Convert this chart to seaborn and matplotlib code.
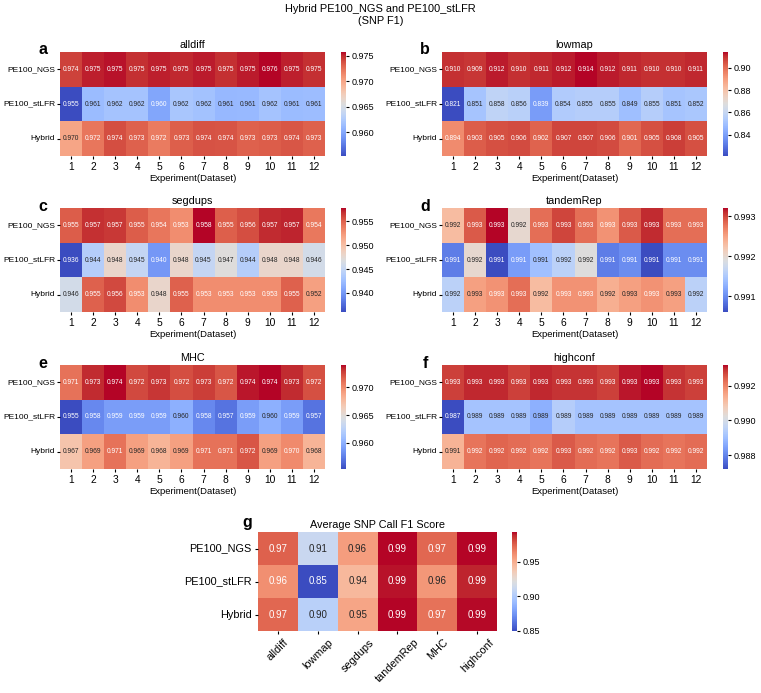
import matplotlib.pyplot as plt
import seaborn as sns
import numpy as np
import pandas as pd

plt.rcParams['font.family'] = ['Liberation Sans', 'DejaVu Sans']

samples = ['PE100_NGS', 'PE100_stLFR', 'Hybrid']
experiments = list(range(1, 13))
regions = ['alldiff', 'lowmap', 'segdups', 'tandemRep', 'MHC', 'highconf']
letters = ['a', 'b', 'c', 'd', 'e', 'f']

# SNP F1 per experiment, rows = PE100_NGS, PE100_stLFR, Hybrid
alldiff = [[0.9742, 0.9752, 0.9754, 0.9748, 0.9752, 0.9750, 0.9753, 0.9748, 0.9753, 0.9757, 0.9752, 0.9748],
           [0.9553, 0.9612, 0.9618, 0.9618, 0.9598, 0.9620, 0.9617, 0.9610, 0.9611, 0.9618, 0.9612, 0.9613],
           [0.9700, 0.9722, 0.9738, 0.9731, 0.9720, 0.9732, 0.9737, 0.9736, 0.9731, 0.9733, 0.9735, 0.9731]]
lowmap = [[0.910, 0.909, 0.912, 0.910, 0.911, 0.912, 0.914, 0.912, 0.911, 0.910, 0.910, 0.911],
          [0.821, 0.851, 0.858, 0.856, 0.839, 0.854, 0.855, 0.855, 0.849, 0.855, 0.851, 0.852],
          [0.894, 0.903, 0.905, 0.906, 0.902, 0.907, 0.907, 0.906, 0.901, 0.905, 0.908, 0.905]]
segdups = [[0.9552, 0.9568, 0.9566, 0.9552, 0.9541, 0.9530, 0.9578, 0.9551, 0.9558, 0.9570, 0.9572, 0.9540],
           [0.936, 0.944, 0.948, 0.945, 0.940, 0.948, 0.945, 0.947, 0.944, 0.948, 0.948, 0.946],
           [0.946, 0.955, 0.956, 0.953, 0.948, 0.955, 0.953, 0.953, 0.953, 0.953, 0.955, 0.952]]
tandemRep = [[0.9923, 0.9929, 0.9932, 0.9920, 0.9928, 0.9930, 0.9928, 0.9926, 0.9929, 0.9931, 0.9928, 0.9928],
             [0.9909, 0.9920, 0.9906, 0.9911, 0.9914, 0.9916, 0.9919, 0.9909, 0.9910, 0.9906, 0.9910, 0.9910],
             [0.9916, 0.9925, 0.9926, 0.9928, 0.9923, 0.9926, 0.9926, 0.9924, 0.9925, 0.9926, 0.9925, 0.9916]]
MHC = [[0.9710, 0.9733, 0.9740, 0.9724, 0.9730, 0.9723, 0.9728, 0.9720, 0.9737, 0.9740, 0.9733, 0.9722],
       [0.9553, 0.958, 0.959, 0.959, 0.959, 0.960, 0.958, 0.957, 0.959, 0.960, 0.959, 0.957],
       [0.967, 0.969, 0.971, 0.969, 0.968, 0.969, 0.971, 0.971, 0.972, 0.969, 0.970, 0.968]]
highconf = [[0.9928, 0.9930, 0.9930, 0.9928, 0.9930, 0.9929, 0.9929, 0.9928, 0.9931, 0.9932, 0.9929, 0.9928],
            [0.9872, 0.9891, 0.9891, 0.9891, 0.9887, 0.9894, 0.9891, 0.9891, 0.9891, 0.9891, 0.9891, 0.9891],
            [0.9913, 0.9922, 0.9924, 0.9923, 0.9922, 0.9925, 0.9923, 0.9922, 0.9925, 0.9923, 0.9922, 0.9923]]

# average F1 per region
avg_ngs = [0.975, 0.911, 0.956, 0.993, 0.973, 0.993]
avg_stlfr = [0.961, 0.850, 0.945, 0.991, 0.958, 0.989]
avg_hybrid = [0.973, 0.904, 0.953, 0.993, 0.970, 0.992]

panel_data = [alldiff, lowmap, segdups, tandemRep, MHC, highconf]

W, H = 761, 693
fig = plt.figure(figsize=(W / 100, H / 100), dpi=100)


def box(x0, y0, x1, y1):
    return [x0 / W, 1 - y1 / H, (x1 - x0) / W, (y1 - y0) / H]


tops = [52, 208, 365]
lefts = [60, 442]
for i, (name, vals) in enumerate(zip(regions, panel_data)):
    r, c = divmod(i, 2)
    x0, y0 = lefts[c], tops[r]
    ax = fig.add_axes(box(x0, y0, x0 + 265, y0 + 104))
    cax = fig.add_axes(box(x0 + 281, y0, x0 + 286, y0 + 104))
    df = pd.DataFrame(vals, index=samples, columns=experiments)
    sns.heatmap(df, ax=ax, cbar_ax=cax, cmap='coolwarm', annot=True, fmt='.3f',
                annot_kws={'size': 4.8})
    ax.set_title(name, fontsize=7.8, pad=3)
    ax.set_xlabel('Experiment(Dataset)', fontsize=6.8, labelpad=2)
    ax.tick_params(axis='y', labelsize=6, rotation=0, length=2, pad=1.5)
    ax.tick_params(axis='x', labelsize=7.4, length=2, pad=2)
    cax.tick_params(labelsize=6.5, length=2.5, pad=1.5)
    fig.text((x0 - 17) / W, 1 - (y0 - 2) / H, letters[i], fontsize=11.5,
             fontweight='bold', ha='center', va='center')

# panel g: average
avg_df = pd.DataFrame([avg_ngs, avg_stlfr, avg_hybrid], index=samples, columns=regions)
axg = fig.add_axes(box(258, 532, 497, 631))
caxg = fig.add_axes(box(512, 532, 517, 631))
sns.heatmap(avg_df, ax=axg, cbar_ax=caxg, cmap='coolwarm', annot=True, fmt='.2f',
            annot_kws={'size': 7})
axg.set_title('Average SNP Call F1 Score', fontsize=7.8, pad=3)
axg.tick_params(axis='y', labelsize=7.8, rotation=0, length=2.5, pad=2)
axg.tick_params(axis='x', labelsize=7.8, rotation=45, length=2.5, pad=2)
caxg.tick_params(labelsize=6.5, length=2.5, pad=1.5)
caxg.set_yticks([0.85, 0.90, 0.95])
fig.text(247 / W, 1 - 522 / H, 'g', fontsize=11.5, fontweight='bold', ha='center', va='center')

fig.suptitle('Hybrid PE100_NGS and PE100_stLFR\n(SNP F1)', fontsize=7.9, y=1 - 4 / H,
             va='top', linespacing=1.2)

fig.savefig('out.png', dpi=100)
